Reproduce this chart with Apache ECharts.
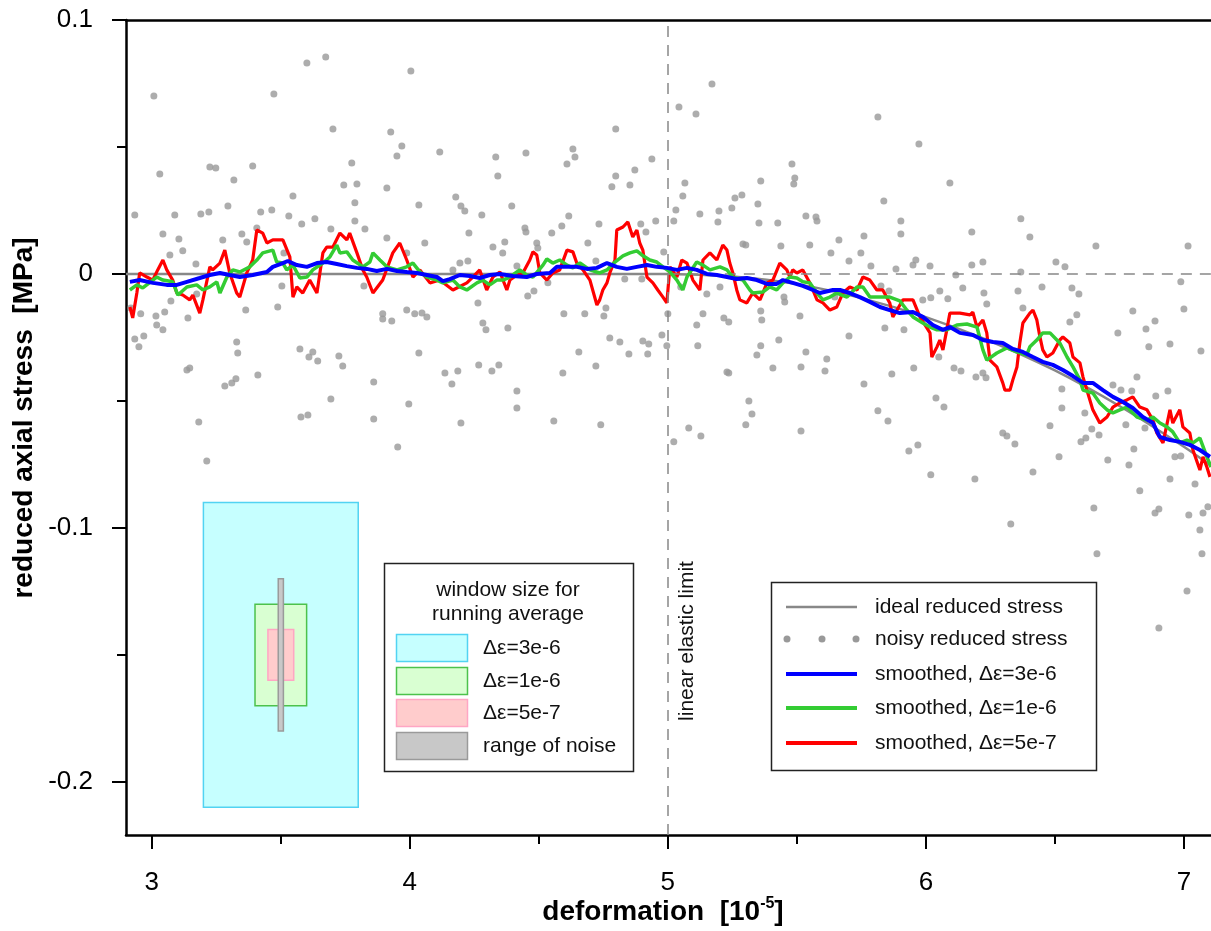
<!DOCTYPE html>
<html>
<head>
<meta charset="utf-8">
<script src="https://cdn.jsdelivr.net/npm/echarts@6/dist/echarts.min.js"></script>
<style>html,body{margin:0;padding:0;background:#fff}#chart{width:1211px;height:931px}</style>
</head>
<body>
<div id="chart"></div>
<script>
// ---------- data ----------
const xMajorTicks = [3, 4, 5, 6, 7];
const xMinorTicks = [3.5, 4.5, 5.5, 6.5];
const yMajorTicks = [-0.2, -0.1, 0, 0.1];
const yMinorTicks = [-0.15, -0.05, 0.05];
const elasticLimit = 5;

const idealStress = [[2.9,0],[5.0,0],[5.25,-0.001],[5.5,-0.004],[5.75,-0.0095],[6.0,-0.017],[6.25,-0.0265],[6.5,-0.038],[6.75,-0.052],[7.0,-0.068],[7.105,-0.0755]];

const noisyStress = [[2.919,-0.0134],[2.934,0.0232],[2.934,-0.0256],[2.950,-0.0287],[2.957,-0.0157],[2.969,-0.0244],[3.008,0.0701],[3.016,-0.0165],[3.019,-0.0201],[3.031,0.0394],[3.043,0.0157],[3.043,-0.0220],[3.050,-0.0150],[3.070,0.0075],[3.074,-0.0106],[3.089,0.0232],[3.105,0.0138],[3.120,0.0091],[3.136,-0.0378],[3.140,-0.0173],[3.147,-0.0370],[3.171,0.0039],[3.174,-0.0079],[3.182,-0.0583],[3.190,0.0236],[3.213,-0.0736],[3.221,0.0244],[3.225,0.0421],[3.248,0.0417],[3.275,0.0134],[3.283,-0.0441],[3.295,0.0268],[3.310,-0.0429],[3.318,0.0370],[3.326,-0.0413],[3.329,-0.0268],[3.333,-0.0311],[3.349,0.0157],[3.364,-0.0142],[3.368,0.0126],[3.391,0.0425],[3.407,0.0181],[3.411,-0.0398],[3.422,0.0244],[3.465,0.0252],[3.473,0.0709],[3.488,-0.0130],[3.504,-0.0047],[3.512,0.0083],[3.531,0.0228],[3.547,0.0307],[3.574,-0.0295],[3.578,-0.0563],[3.581,0.0197],[3.601,0.0831],[3.605,-0.0555],[3.609,-0.0327],[3.624,-0.0307],[3.632,0.0217],[3.643,-0.0343],[3.674,0.0854],[3.694,0.0177],[3.694,-0.0492],[3.702,0.0571],[3.725,-0.0323],[3.740,-0.0362],[3.744,0.0350],[3.775,0.0437],[3.787,0.0280],[3.787,0.0209],[3.795,0.0354],[3.822,-0.0047],[3.826,0.0177],[3.860,-0.0425],[3.860,-0.0571],[3.895,-0.0157],[3.895,-0.0177],[3.911,0.0339],[3.911,0.0142],[3.926,0.0559],[3.930,-0.0185],[3.950,0.0465],[3.953,-0.0681],[3.969,0.0504],[3.988,0.0083],[3.988,-0.0142],[3.996,-0.0512],[4.004,0.0799],[4.019,-0.0157],[4.035,0.0272],[4.035,-0.0311],[4.047,-0.0154],[4.058,0.0122],[4.066,-0.0169],[4.116,0.0480],[4.136,-0.0390],[4.163,-0.0433],[4.167,0.0016],[4.178,0.0303],[4.186,-0.0382],[4.194,0.0043],[4.198,0.0268],[4.198,-0.0587],[4.213,0.0248],[4.225,0.0051],[4.229,0.0161],[4.264,-0.0114],[4.267,-0.0358],[4.279,0.0232],[4.283,-0.0193],[4.295,-0.0220],[4.318,-0.0382],[4.322,0.0106],[4.333,0.0461],[4.341,0.0386],[4.345,-0.0358],[4.360,0.0083],[4.368,0.0126],[4.380,-0.0213],[4.395,0.0268],[4.415,0.0031],[4.415,-0.0461],[4.415,-0.0528],[4.446,0.0181],[4.450,0.0476],[4.450,0.0165],[4.457,-0.0087],[4.481,-0.0067],[4.492,0.0122],[4.496,0.0102],[4.535,-0.0035],[4.550,0.0161],[4.558,-0.0579],[4.589,0.0189],[4.593,-0.0390],[4.597,-0.0157],[4.609,0.0433],[4.616,0.0228],[4.632,0.0492],[4.640,0.0461],[4.655,-0.0307],[4.678,-0.0157],[4.690,0.0122],[4.721,0.0051],[4.721,-0.0362],[4.733,0.0197],[4.740,-0.0594],[4.752,-0.0165],[4.760,-0.0134],[4.775,-0.0252],[4.783,0.0343],[4.798,0.0571],[4.798,0.0386],[4.814,-0.0268],[4.833,-0.0020],[4.849,-0.0315],[4.853,0.0350],[4.872,0.0409],[4.895,0.0197],[4.899,-0.0020],[4.903,-0.0264],[4.915,0.0165],[4.922,-0.0315],[4.926,-0.0276],[4.938,0.0453],[4.953,0.0209],[4.977,-0.0240],[4.984,0.0087],[4.996,-0.0283],[5.000,-0.0157],[5.023,0.0209],[5.023,-0.0661],[5.031,0.0252],[5.043,0.0657],[5.050,-0.0051],[5.058,0.0307],[5.066,0.0358],[5.081,-0.0606],[5.109,0.0630],[5.112,-0.0201],[5.116,-0.0283],[5.124,0.0236],[5.128,-0.0638],[5.136,-0.0157],[5.151,-0.0079],[5.171,0.0748],[5.194,0.0205],[5.198,0.0248],[5.202,-0.0051],[5.217,-0.0173],[5.229,-0.0386],[5.236,-0.0189],[5.236,-0.0390],[5.248,0.0260],[5.260,0.0299],[5.287,0.0311],[5.291,0.0118],[5.302,0.0114],[5.302,-0.0594],[5.314,-0.0500],[5.326,-0.0551],[5.345,-0.0319],[5.349,0.0276],[5.353,0.0201],[5.360,0.0366],[5.360,-0.0146],[5.360,-0.0283],[5.364,-0.0181],[5.407,-0.0370],[5.426,0.0201],[5.430,-0.0260],[5.438,0.0110],[5.450,-0.0091],[5.453,-0.0110],[5.481,0.0433],[5.488,0.0354],[5.492,0.0378],[5.512,-0.0165],[5.516,-0.0366],[5.516,-0.0618],[5.535,0.0228],[5.535,-0.0307],[5.550,0.0114],[5.574,0.0224],[5.578,0.0209],[5.609,-0.0382],[5.616,-0.0335],[5.632,0.0083],[5.647,-0.0091],[5.663,0.0134],[5.702,0.0051],[5.702,-0.0244],[5.748,0.0083],[5.760,0.0150],[5.760,-0.0433],[5.787,0.0031],[5.814,0.0618],[5.814,-0.0539],[5.826,-0.0047],[5.837,0.0287],[5.841,-0.0213],[5.853,-0.0579],[5.857,-0.0067],[5.868,-0.0394],[5.884,0.0020],[5.903,0.0209],[5.903,0.0157],[5.915,-0.0220],[5.934,-0.0697],[5.950,0.0035],[5.953,-0.0370],[5.961,0.0055],[5.969,-0.0673],[5.973,0.0512],[5.988,-0.0102],[6.016,0.0031],[6.019,-0.0094],[6.019,-0.0791],[6.039,-0.0488],[6.050,-0.0327],[6.054,-0.0067],[6.070,-0.0524],[6.085,-0.0098],[6.093,0.0358],[6.109,-0.0370],[6.116,-0.0004],[6.136,-0.0382],[6.143,-0.0055],[6.178,0.0165],[6.178,0.0035],[6.190,-0.0807],[6.194,-0.0406],[6.221,0.0047],[6.221,-0.0390],[6.225,-0.0075],[6.233,-0.0409],[6.236,-0.0118],[6.298,-0.0626],[6.314,-0.0638],[6.329,-0.0984],[6.345,-0.0669],[6.357,-0.0067],[6.368,0.0217],[6.368,0.0008],[6.376,-0.0134],[6.403,0.0146],[6.415,-0.0780],[6.450,-0.0051],[6.481,-0.0598],[6.504,0.0047],[6.516,-0.0720],[6.527,-0.0453],[6.527,-0.0528],[6.539,0.0028],[6.558,-0.0189],[6.566,-0.0055],[6.585,-0.0161],[6.593,-0.0079],[6.601,-0.0661],[6.616,-0.0547],[6.620,-0.0646],[6.643,-0.0610],[6.651,-0.0921],[6.659,0.0110],[6.663,-0.1102],[6.671,-0.0634],[6.705,-0.0732],[6.725,-0.0437],[6.744,-0.0232],[6.756,-0.0457],[6.775,-0.0594],[6.787,-0.0752],[6.798,-0.0461],[6.802,-0.0146],[6.806,-0.0689],[6.818,-0.0406],[6.829,-0.0854],[6.849,-0.0606],[6.853,-0.0217],[6.864,-0.0287],[6.888,-0.0185],[6.888,-0.0941],[6.891,-0.0480],[6.903,-0.0925],[6.903,-0.1394],[6.938,-0.0461],[6.946,-0.0276],[6.946,-0.0807],[6.965,-0.0720],[6.988,-0.0031],[6.988,-0.0717],[7.000,-0.0138],[7.012,-0.1248],[7.016,0.0110],[7.019,-0.0949],[7.043,-0.0827],[7.062,-0.1008],[7.066,-0.0303],[7.070,-0.1102],[7.074,-0.0941],[7.093,-0.0917]];

const smoothed3e6 = [[2.915,-0.0031],[2.953,-0.0024],[3.004,-0.0035],[3.058,-0.0043],[3.097,-0.0043],[3.136,-0.0031],[3.186,-0.0016],[3.225,-0.0004],[3.264,0.0004],[3.302,-0.0004],[3.341,-0.0012],[3.391,-0.0004],[3.446,0.0008],[3.469,0.0028],[3.508,0.0043],[3.527,0.0051],[3.562,0.0035],[3.601,0.0028],[3.640,0.0043],[3.678,0.0047],[3.717,0.0039],[3.756,0.0031],[3.795,0.0024],[3.833,0.0020],[3.872,0.0012],[3.911,0.0020],[3.950,0.0012],[3.988,0.0008],[4.027,0.0004],[4.066,-0.0004],[4.105,-0.0012],[4.128,-0.0028],[4.155,-0.0020],[4.194,-0.0004],[4.233,-0.0008],[4.271,-0.0016],[4.310,-0.0004],[4.349,0.0000],[4.399,-0.0008],[4.453,-0.0012],[4.492,0.0000],[4.543,0.0004],[4.570,0.0028],[4.609,0.0028],[4.647,0.0028],[4.686,0.0020],[4.725,0.0024],[4.764,0.0043],[4.802,0.0028],[4.841,0.0020],[4.880,0.0028],[4.919,0.0035],[4.957,0.0028],[4.996,0.0024],[5.035,0.0016],[5.074,0.0024],[5.112,0.0016],[5.151,0.0000],[5.190,-0.0004],[5.229,-0.0012],[5.267,-0.0020],[5.306,-0.0016],[5.345,-0.0024],[5.384,-0.0039],[5.422,-0.0039],[5.446,-0.0024],[5.484,-0.0035],[5.523,-0.0047],[5.562,-0.0063],[5.589,-0.0075],[5.640,-0.0063],[5.667,-0.0063],[5.705,-0.0075],[5.744,-0.0091],[5.783,-0.0110],[5.822,-0.0130],[5.860,-0.0142],[5.899,-0.0154],[5.950,-0.0150],[5.988,-0.0169],[6.027,-0.0201],[6.066,-0.0220],[6.093,-0.0209],[6.132,-0.0232],[6.182,-0.0240],[6.221,-0.0260],[6.260,-0.0268],[6.298,-0.0272],[6.337,-0.0295],[6.376,-0.0307],[6.415,-0.0327],[6.453,-0.0346],[6.492,-0.0358],[6.531,-0.0378],[6.570,-0.0402],[6.609,-0.0429],[6.647,-0.0429],[6.686,-0.0457],[6.725,-0.0484],[6.764,-0.0504],[6.802,-0.0528],[6.841,-0.0563],[6.880,-0.0587],[6.907,-0.0642],[6.946,-0.0654],[6.984,-0.0661],[7.023,-0.0673],[7.062,-0.0693],[7.101,-0.0720]];

const smoothed1e6 = [[2.915,-0.0063],[2.942,-0.0043],[2.965,-0.0055],[3.004,-0.0024],[3.019,-0.0012],[3.043,-0.0024],[3.081,-0.0031],[3.101,-0.0083],[3.136,-0.0051],[3.174,-0.0043],[3.198,-0.0063],[3.225,-0.0051],[3.252,-0.0031],[3.264,-0.0075],[3.291,-0.0012],[3.314,0.0016],[3.341,0.0008],[3.380,0.0028],[3.407,0.0055],[3.430,0.0083],[3.469,0.0094],[3.484,0.0047],[3.508,0.0043],[3.523,0.0016],[3.547,0.0035],[3.574,-0.0016],[3.601,-0.0012],[3.624,0.0016],[3.663,0.0043],[3.690,0.0067],[3.717,0.0114],[3.729,0.0083],[3.756,0.0087],[3.779,0.0055],[3.818,0.0028],[3.845,0.0047],[3.857,0.0083],[3.884,0.0055],[3.911,0.0028],[3.950,0.0016],[3.988,0.0028],[4.012,0.0043],[4.039,0.0008],[4.066,-0.0012],[4.105,-0.0024],[4.128,-0.0035],[4.167,-0.0024],[4.194,-0.0051],[4.221,-0.0063],[4.260,-0.0035],[4.283,-0.0024],[4.310,-0.0043],[4.337,-0.0024],[4.360,-0.0024],[4.388,-0.0012],[4.426,0.0016],[4.453,-0.0004],[4.477,-0.0012],[4.516,0.0035],[4.531,0.0059],[4.554,0.0043],[4.581,0.0055],[4.609,0.0035],[4.632,0.0024],[4.659,0.0043],[4.698,0.0016],[4.736,0.0004],[4.764,0.0016],[4.795,0.0047],[4.826,0.0071],[4.853,0.0083],[4.880,0.0091],[4.899,0.0075],[4.930,0.0055],[4.957,0.0047],[4.981,0.0028],[5.008,0.0008],[5.035,-0.0024],[5.058,-0.0063],[5.074,-0.0012],[5.112,0.0047],[5.136,0.0035],[5.163,0.0016],[5.202,0.0028],[5.229,0.0016],[5.252,-0.0012],[5.291,-0.0024],[5.318,-0.0063],[5.329,-0.0075],[5.368,-0.0071],[5.395,-0.0051],[5.422,-0.0063],[5.446,-0.0035],[5.473,-0.0012],[5.500,-0.0016],[5.523,-0.0031],[5.550,-0.0035],[5.578,-0.0075],[5.601,-0.0102],[5.628,-0.0091],[5.655,-0.0075],[5.694,-0.0091],[5.733,-0.0051],[5.756,-0.0051],[5.783,-0.0091],[5.822,-0.0091],[5.860,-0.0091],[5.899,-0.0106],[5.926,-0.0142],[5.950,-0.0169],[5.988,-0.0193],[6.016,-0.0209],[6.043,-0.0220],[6.081,-0.0220],[6.120,-0.0201],[6.159,-0.0197],[6.198,-0.0209],[6.221,-0.0299],[6.236,-0.0339],[6.275,-0.0311],[6.314,-0.0291],[6.353,-0.0307],[6.391,-0.0319],[6.403,-0.0287],[6.430,-0.0260],[6.453,-0.0232],[6.481,-0.0232],[6.519,-0.0272],[6.547,-0.0327],[6.570,-0.0366],[6.597,-0.0417],[6.609,-0.0457],[6.647,-0.0469],[6.674,-0.0508],[6.702,-0.0535],[6.725,-0.0547],[6.752,-0.0535],[6.779,-0.0524],[6.818,-0.0563],[6.857,-0.0575],[6.880,-0.0563],[6.907,-0.0587],[6.934,-0.0602],[6.957,-0.0622],[6.984,-0.0665],[7.012,-0.0654],[7.035,-0.0665],[7.062,-0.0646],[7.089,-0.0720],[7.105,-0.0760]];

const smoothed5e7 = [[2.915,-0.0130],[2.926,-0.0173],[2.942,-0.0075],[2.953,0.0004],[2.981,-0.0012],[3.004,-0.0024],[3.023,0.0016],[3.043,0.0055],[3.058,0.0016],[3.081,-0.0024],[3.097,-0.0075],[3.120,-0.0083],[3.147,-0.0102],[3.159,-0.0083],[3.186,-0.0154],[3.198,-0.0102],[3.225,0.0028],[3.236,0.0016],[3.264,0.0043],[3.283,0.0094],[3.302,0.0004],[3.329,-0.0075],[3.341,-0.0091],[3.368,0.0004],[3.391,0.0055],[3.407,0.0173],[3.430,0.0161],[3.446,0.0122],[3.469,0.0134],[3.508,0.0134],[3.535,0.0067],[3.547,-0.0091],[3.562,-0.0051],[3.585,-0.0075],[3.612,-0.0024],[3.640,-0.0075],[3.663,0.0083],[3.678,0.0106],[3.702,0.0106],[3.729,0.0161],[3.756,0.0134],[3.767,0.0161],[3.795,0.0083],[3.818,0.0016],[3.833,-0.0012],[3.857,-0.0075],[3.895,-0.0024],[3.934,0.0083],[3.961,0.0122],[3.988,0.0055],[4.012,-0.0012],[4.039,0.0016],[4.078,-0.0035],[4.116,-0.0024],[4.167,-0.0063],[4.221,-0.0035],[4.244,-0.0012],[4.271,0.0016],[4.298,-0.0063],[4.322,-0.0012],[4.349,0.0008],[4.376,-0.0063],[4.388,-0.0024],[4.415,-0.0004],[4.438,0.0004],[4.465,0.0055],[4.477,0.0087],[4.492,0.0075],[4.504,0.0004],[4.531,-0.0024],[4.554,0.0004],[4.581,0.0016],[4.609,0.0094],[4.632,0.0087],[4.647,0.0043],[4.671,0.0016],[4.698,-0.0024],[4.725,-0.0122],[4.736,-0.0102],[4.748,-0.0063],[4.764,-0.0035],[4.775,0.0004],[4.795,0.0055],[4.802,0.0173],[4.826,0.0185],[4.845,0.0205],[4.864,0.0146],[4.880,0.0173],[4.891,0.0122],[4.903,0.0094],[4.919,-0.0012],[4.942,-0.0035],[4.961,-0.0063],[4.981,-0.0091],[4.996,-0.0114],[5.008,0.0028],[5.035,-0.0012],[5.054,0.0055],[5.074,0.0043],[5.097,-0.0024],[5.124,-0.0063],[5.136,0.0055],[5.163,0.0083],[5.190,0.0055],[5.213,0.0114],[5.229,0.0094],[5.240,0.0043],[5.252,0.0004],[5.267,-0.0063],[5.279,-0.0102],[5.306,-0.0114],[5.329,-0.0075],[5.357,-0.0102],[5.368,-0.0075],[5.384,-0.0035],[5.407,-0.0024],[5.434,0.0043],[5.461,0.0016],[5.473,-0.0012],[5.484,0.0016],[5.500,0.0004],[5.523,0.0016],[5.550,-0.0035],[5.562,-0.0063],[5.578,-0.0102],[5.601,-0.0114],[5.628,-0.0142],[5.655,-0.0130],[5.678,-0.0075],[5.705,-0.0051],[5.733,-0.0063],[5.756,-0.0012],[5.783,-0.0024],[5.810,-0.0063],[5.833,-0.0063],[5.860,-0.0114],[5.872,-0.0169],[5.888,-0.0142],[5.911,-0.0102],[5.950,-0.0102],[5.977,-0.0169],[6.016,-0.0232],[6.023,-0.0327],[6.043,-0.0287],[6.054,-0.0260],[6.066,-0.0299],[6.081,-0.0220],[6.093,-0.0154],[6.132,-0.0154],[6.171,-0.0161],[6.182,-0.0150],[6.198,-0.0209],[6.221,-0.0181],[6.236,-0.0232],[6.248,-0.0339],[6.275,-0.0366],[6.298,-0.0429],[6.306,-0.0457],[6.326,-0.0457],[6.337,-0.0417],[6.353,-0.0366],[6.364,-0.0272],[6.376,-0.0193],[6.403,-0.0154],[6.415,-0.0142],[6.430,-0.0181],[6.442,-0.0248],[6.453,-0.0299],[6.469,-0.0327],[6.492,-0.0311],[6.519,-0.0260],[6.531,-0.0248],[6.558,-0.0272],[6.570,-0.0327],[6.597,-0.0350],[6.609,-0.0406],[6.624,-0.0457],[6.647,-0.0535],[6.674,-0.0587],[6.702,-0.0563],[6.725,-0.0524],[6.752,-0.0508],[6.779,-0.0496],[6.802,-0.0484],[6.829,-0.0524],[6.857,-0.0535],[6.880,-0.0575],[6.895,-0.0626],[6.919,-0.0665],[6.946,-0.0535],[6.957,-0.0587],[6.984,-0.0535],[6.996,-0.0602],[7.023,-0.0626],[7.035,-0.0693],[7.062,-0.0772],[7.074,-0.0720],[7.089,-0.0760],[7.101,-0.0799]];

// window-size illustration: [xStart, xEnd, yLow, yHigh]
const windowRects = [[3.2, 3.8, -0.21, -0.09], [3.4, 3.6, -0.17, -0.13], [3.45, 3.55, -0.16, -0.14], [3.49, 3.51, -0.18, -0.12]];
const windowLabels = ['Δε=3e-6', 'Δε=1e-6', 'Δε=5e-7', 'range of noise'];
const lineLabels = ['ideal reduced stress', 'noisy reduced stress', 'smoothed, Δε=3e-6', 'smoothed, Δε=1e-6', 'smoothed, Δε=5e-7'];

// ---------- styles ----------
const FONT = '"Liberation Sans", Arial, sans-serif';
const rectFills = ['#c6ffff', '#d9ffd2', '#ffcccc', '#c8c8c8'];
const rectStrokes = ['#52d3f2', '#4cc24c', '#ffa6c4', '#9a9a9a'];
const GRAY = '#888888', DOT = '#999999', BLUE = '#0000ff', GREEN = '#33cc33', RED = '#ff0000';

const chart = echarts.init(document.getElementById('chart'), null, {renderer: 'canvas'});

const baseX = {type: 'value', min: 2.9, max: 7.105, splitLine: {show: false}, scale: true};
const baseY = {type: 'value', min: -0.2209, max: 0.1, splitLine: {show: false}, scale: true};

const graphic = [];
// left legend
graphic.push({type: 'rect', z: 100, shape: {x: 384.5, y: 563.5, width: 249, height: 208}, style: {fill: '#fff', stroke: '#222', lineWidth: 1.5}});
graphic.push({type: 'text', z: 101, x: 508, y: 590, style: {text: 'window size for', font: '21px ' + FONT, fill: '#111', textAlign: 'center', textVerticalAlign: 'middle'}});
graphic.push({type: 'text', z: 101, x: 508, y: 614, style: {text: 'running average', font: '21px ' + FONT, fill: '#111', textAlign: 'center', textVerticalAlign: 'middle'}});
const swY = [634, 667, 699, 732];
windowLabels.forEach((lab, i) => {
  graphic.push({type: 'rect', z: 101, shape: {x: 396.5, y: swY[i] + 0.5, width: 71, height: 27}, style: {fill: rectFills[i], stroke: rectStrokes[i], lineWidth: 1.5}});
  graphic.push({type: 'text', z: 101, x: 483, y: swY[i] + 14, style: {text: lab, font: '21px ' + FONT, fill: '#111', textAlign: 'left', textVerticalAlign: 'middle'}});
});
// right legend
graphic.push({type: 'rect', z: 100, shape: {x: 771.5, y: 582.5, width: 325, height: 188}, style: {fill: '#fff', stroke: '#222', lineWidth: 1.5}});
const lgY = [607, 639, 674, 708, 743];
const lgColor = [GRAY, DOT, BLUE, GREEN, RED];
const lgWidth = [2.5, 0, 4, 4, 4];
lineLabels.forEach((lab, i) => {
  if (i === 1) {
    [787, 822, 856].forEach(cx => graphic.push({type: 'circle', z: 101, shape: {cx: cx, cy: lgY[i], r: 3.5}, style: {fill: DOT}}));
  } else {
    graphic.push({type: 'line', z: 101, shape: {x1: 786, y1: lgY[i], x2: 857, y2: lgY[i]}, style: {stroke: lgColor[i], lineWidth: lgWidth[i]}});
  }
  graphic.push({type: 'text', z: 101, x: 875, y: lgY[i], style: {text: lab, font: '21px ' + FONT, fill: '#111', textAlign: 'left', textVerticalAlign: 'middle'}});
});
// annotations and axis titles
graphic.push({type: 'text', z: 101, x: 687, y: 641, rotation: Math.PI / 2, style: {text: 'linear elastic limit', font: '21px ' + FONT, fill: '#111', textAlign: 'center', textVerticalAlign: 'middle'}});
graphic.push({type: 'text', z: 101, x: 24, y: 418, rotation: Math.PI / 2, style: {text: 'reduced axial stress  [MPa]', font: 'bold 28px ' + FONT, fill: '#000', textAlign: 'center', textVerticalAlign: 'middle'}});
graphic.push({type: 'text', z: 101, x: 663, y: 912, style: {
  text: '{a|deformation  [10}{b|-5}{a|]}', textAlign: 'center', textVerticalAlign: 'middle',
  rich: {a: {font: 'bold 28px ' + FONT, fill: '#000', lineHeight: 32}, b: {font: 'bold 16px ' + FONT, fill: '#000', verticalAlign: 'top', lineHeight: 32, padding: [0, 0, 0, 0]}}
}});

const option = {
  animation: false,
  backgroundColor: '#fff',
  grid: {left: 126, right: 0, top: 20, bottom: 96, containLabel: false},
  xAxis: [
    Object.assign({}, baseX, {position: 'bottom',
      axisLine: {show: true, onZero: false, lineStyle: {color: '#000', width: 2.5}},
      axisTick: {show: true, customValues: xMajorTicks, length: 14, lineStyle: {color: '#000', width: 2}},
      axisLabel: {show: true, customValues: xMajorTicks, margin: 35, fontSize: 26, fontFamily: FONT, color: '#000'}}),
    Object.assign({}, baseX, {position: 'bottom', offset: 0,
      axisLine: {show: false, onZero: false},
      axisTick: {show: true, customValues: xMinorTicks, length: 9, lineStyle: {color: '#000', width: 2}},
      axisLabel: {show: false}}),
    Object.assign({}, baseX, {position: 'top',
      axisLine: {show: true, onZero: false, lineStyle: {color: '#000', width: 2.5}},
      axisTick: {show: false}, axisLabel: {show: false}})
  ],
  yAxis: [
    Object.assign({}, baseY, {position: 'left',
      axisLine: {show: true, onZero: false, lineStyle: {color: '#000', width: 2.5}},
      axisTick: {show: true, customValues: yMajorTicks, length: 14, lineStyle: {color: '#000', width: 2}},
      axisLabel: {show: true, customValues: yMajorTicks, margin: 33, fontSize: 26, fontFamily: FONT, color: '#000',
        formatter: v => String(Math.round(v * 10) / 10)}}),
    Object.assign({}, baseY, {position: 'left', offset: 0,
      axisLine: {show: false, onZero: false},
      axisTick: {show: true, customValues: yMinorTicks, length: 9, lineStyle: {color: '#000', width: 2}},
      axisLabel: {show: false}})
  ],
  series: [
    {
      type: 'custom', name: 'windows', xAxisIndex: 0, yAxisIndex: 0, z: 1, silent: true,
      data: windowRects, encode: {x: [0, 1], y: [2, 3]},
      renderItem: (params, api) => {
        const p0 = api.coord([api.value(0), api.value(3)]);
        const p1 = api.coord([api.value(1), api.value(2)]);
        const i = params.dataIndex;
        return {type: 'rect', shape: {x: p0[0], y: p0[1], width: p1[0] - p0[0], height: p1[1] - p0[1]},
          style: {fill: rectFills[i], stroke: rectStrokes[i], lineWidth: 1.5}};
      }
    },
    {
      type: 'scatter', name: 'noisy reduced stress', data: noisyStress, symbol: 'circle', symbolSize: 7,
      itemStyle: {color: DOT}, z: 2, silent: true
    },
    {
      type: 'line', name: 'ideal reduced stress', data: idealStress, showSymbol: false, smooth: 0.3,
      lineStyle: {color: GRAY, width: 2.5}, z: 3, silent: true,
      markLine: {
        silent: true, symbol: 'none', label: {show: false},
        lineStyle: {color: GRAY, type: [11, 8], width: 1.5},
        data: [
          {xAxis: elasticLimit},
          [{coord: [elasticLimit, 0]}, {coord: [7.105, 0]}]
        ]
      }
    },
    {
      type: 'line', name: 'smoothed, Δε=5e-7', data: smoothed5e7, showSymbol: false,
      lineStyle: {color: RED, width: 3.2}, z: 4, silent: true
    },
    {
      type: 'line', name: 'smoothed, Δε=1e-6', data: smoothed1e6, showSymbol: false,
      lineStyle: {color: GREEN, width: 3.5}, z: 5, silent: true
    },
    {
      type: 'line', name: 'smoothed, Δε=3e-6', data: smoothed3e6, showSymbol: false,
      lineStyle: {color: BLUE, width: 4}, z: 6, silent: true
    }
  ],
  graphic: graphic
};
chart.setOption(option);
</script>
</body>
</html>
